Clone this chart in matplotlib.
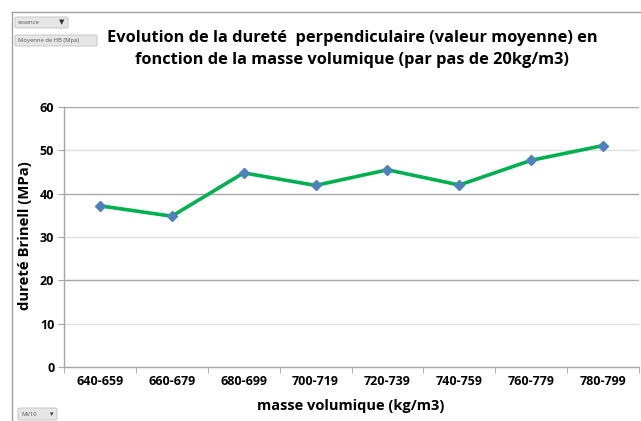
import matplotlib
matplotlib.use("Agg")
import matplotlib.pyplot as plt
from matplotlib.patches import FancyBboxPatch
from matplotlib.lines import Line2D

categories = ["640-659", "660-679", "680-699", "700-719", "720-739", "740-759", "760-779", "780-799"]
hardness = [37.2, 34.8, 44.8, 41.9, 45.5, 42.0, 47.7, 51.1]
y_ticks = [0, 10, 20, 30, 40, 50, 60]

title = "Evolution de la dureté  perpendiculaire (valeur moyenne) en\nfonction de la masse volumique (par pas de 20kg/m3)"
xlabel = "masse volumique (kg/m3)"
ylabel = "dureté Brinell (MPa)"

plt.rcParams['font.family'] = ['Open Sans', 'DejaVu Sans']

W, H = 641, 421
fig = plt.figure(figsize=(W / 100, H / 100), dpi=100)

ax = fig.add_axes([64 / W, 1 - 367 / H, (639 - 64) / W, 260 / H])
x = list(range(len(categories)))
ax.plot(x, hardness, color="#00b050", lw=2.6, zorder=3,
        marker="D", markersize=5.5, markerfacecolor="#4f81bd", markeredgecolor="#4f81bd")
ax.set_xlim(-0.5, len(categories) - 0.5)
ax.set_ylim(0, 60)
ax.set_yticks(y_ticks)
ax.set_yticklabels([str(v) for v in y_ticks], fontsize=9, fontweight="bold")
for v in y_ticks[1:]:
    c = "#a6a6a6" if v % 20 == 0 else "#e0e0e0"
    ax.axhline(v, color=c, lw=1.0, zorder=1)
ax.set_xticks(x)
ax.set_xticklabels(categories, fontsize=9, fontweight="bold")
ax.set_xticks([i + 0.5 for i in range(-1, len(categories))], minor=True)
ax.tick_params(axis="x", which="major", length=0, pad=6)
ax.tick_params(axis="x", which="minor", length=4, color="#a6a6a6", direction="out")
ax.tick_params(axis="y", length=4, color="#a6a6a6", pad=3)
for s in ["top", "right"]:
    ax.spines[s].set_visible(False)
for s in ["left", "bottom"]:
    ax.spines[s].set_color("#a6a6a6")
    ax.spines[s].set_linewidth(1.0)

fig.text(352 / W, 1 - 49 / H, title, ha="center", va="center", fontsize=11.8,
         fontweight="bold", linespacing=1.5)
fig.text(351 / W, 1 - 406 / H, xlabel, ha="center", va="center", fontsize=10.5, fontweight="bold")
fig.text(25 / W, 1 - 236 / H, ylabel, ha="center", va="center", fontsize=10.7,
         fontweight="bold", rotation=90)

# chart border (top and left)
fig.add_artist(Line2D([12 / W, 12 / W], [0, 1 - 12 / H], color="#a0a0a0", lw=1.0,
                      transform=fig.transFigure))
fig.add_artist(Line2D([12 / W, 1], [1 - 12 / H, 1 - 12 / H], color="#a0a0a0", lw=1.0,
                      transform=fig.transFigure))

def button(x0, y0, w, h, text, arrow=None):
    p = FancyBboxPatch((x0 / W, 1 - (y0 + h) / H), w / W, h / H,
                       boxstyle="round,pad=0,rounding_size=0.003",
                       transform=fig.transFigure, facecolor="#e6e6e6",
                       edgecolor="#c0c0c0", lw=0.6)
    fig.add_artist(p)
    fig.text((x0 + 3) / W, 1 - (y0 + h / 2) / H, text, fontsize=4.2, color="#555555",
             ha="left", va="center")
    if arrow:
        fig.text((x0 + w - 4) / W, 1 - (y0 + h / 2) / H, arrow, fontsize=5,
                 color="#333333", ha="right", va="center", family="DejaVu Sans")

button(15, 17, 53, 11, "essence", "▼")
button(15, 35, 82, 11, "Moyenne de HB (Mpa)")
button(18, 408, 39, 12, "MV10", "▾")

fig.savefig("out.png", dpi=100)
